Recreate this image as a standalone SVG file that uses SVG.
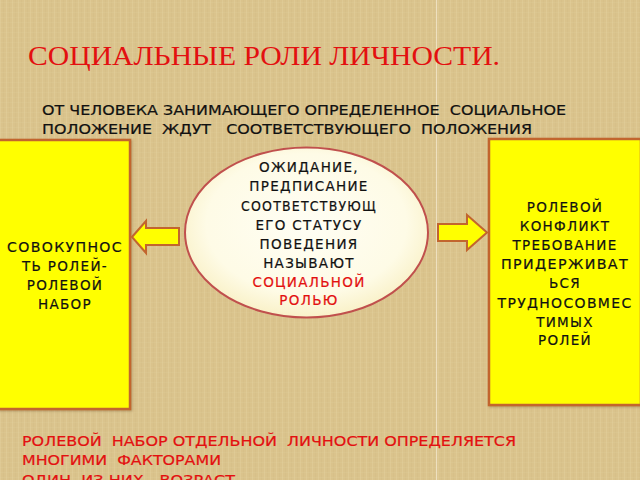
<svg xmlns="http://www.w3.org/2000/svg" width="640" height="480" viewBox="0 0 640 480">
  <defs>
    <pattern id="weave" width="6" height="5" patternUnits="userSpaceOnUse">
      <rect width="6" height="5" fill="#dac38c"/>
      <rect x="0" y="0" width="1" height="5" fill="#e3d09e" opacity="0.45"/>
      <rect x="3" y="0" width="1" height="5" fill="#cdb47f" opacity="0.2"/>
      <rect x="0" y="2" width="6" height="1" fill="#e3d2a2" opacity="0.2"/>
    </pattern>
    <radialGradient id="egg" cx="50%" cy="45%" r="55%">
      <stop offset="0" stop-color="#fffef4"/>
      <stop offset="0.75" stop-color="#fefbe6"/>
      <stop offset="1" stop-color="#f9f1c8"/>
    </radialGradient>
    <filter id="sh" x="-10%" y="-10%" width="130%" height="130%">
      <feDropShadow dx="1" dy="1" stdDeviation="1" flood-color="#6b4a20" flood-opacity="0.4"/>
    </filter>
  </defs>
  <style>
    .sans { font-family: "DejaVu Sans", "Noto Sans", sans-serif; font-size: 13.5px; fill: #111; stroke: #111; stroke-width: 0.2px; }
    .box { fill: #ffff00; stroke: #c2652e; stroke-width: 2.5; }
    .arrow { fill: #ffff00; stroke: #c2652e; stroke-width: 2; stroke-linejoin: miter; }
    .red { fill: #e31010; stroke: #e31010; }
    .mid { text-anchor: middle; letter-spacing: 1.3px; }
  </style>

  <rect width="640" height="480" fill="url(#weave)"/>
  <line x1="436.5" y1="0" x2="436.5" y2="480" stroke="#f3e8cc" stroke-width="1.2" opacity="0.8"/>

  <g id="title">
    <text x="28" y="65" textLength="472" lengthAdjust="spacingAndGlyphs" font-family="'Liberation Serif', 'DejaVu Serif', serif" font-size="28" fill="#e31010">СОЦИАЛЬНЫЕ РОЛИ ЛИЧНОСТИ.</text>
  </g>

  <g id="subtitle" class="sans">
    <text x="42" y="115" textLength="524" lengthAdjust="spacingAndGlyphs" xml:space="preserve">ОТ ЧЕЛОВЕКА ЗАНИМАЮЩЕГО ОПРЕДЕЛЕННОЕ  СОЦИАЛЬНОЕ</text>
    <text x="42" y="134" textLength="490" lengthAdjust="spacingAndGlyphs" xml:space="preserve">ПОЛОЖЕНИЕ  ЖДУТ   СООТВЕТСТВУЮЩЕГО  ПОЛОЖЕНИЯ</text>
  </g>

  <g id="box-left">
    <rect class="box" x="-2" y="140" width="132" height="269" filter="url(#sh)"/>
    <g class="sans mid">
      <text x="65" y="252" textLength="116" lengthAdjust="spacingAndGlyphs">СОВОКУПНОС</text>
      <text x="65" y="271">ТЬ РОЛЕЙ-</text>
      <text x="65" y="290">РОЛЕВОЙ</text>
      <text x="65" y="309">НАБОР</text>
    </g>
  </g>

  <g id="ellipse-center">
    <ellipse cx="306.5" cy="232.5" rx="121.5" ry="85" fill="url(#egg)" stroke="#c0504d" stroke-width="2"/>
    <g class="sans mid">
      <text x="309" y="172">ОЖИДАНИЕ,</text>
      <text x="309" y="191">ПРЕДПИСАНИЕ</text>
      <text x="309" y="211" textLength="136" lengthAdjust="spacingAndGlyphs">СООТВЕТСТВУЮЩ</text>
      <text x="309" y="230">ЕГО СТАТУСУ</text>
      <text x="309" y="249">ПОВЕДЕНИЯ</text>
      <text x="309" y="268">НАЗЫВАЮТ</text>
      <text x="309" y="287" class="red">СОЦИАЛЬНОЙ</text>
      <text x="309" y="305" class="red">РОЛЬЮ</text>
    </g>
  </g>

  <g id="box-right">
    <rect class="box" x="489" y="139" width="152" height="266" filter="url(#sh)"/>
    <g class="sans mid">
      <text x="565" y="212">РОЛЕВОЙ</text>
      <text x="565" y="231">КОНФЛИКТ</text>
      <text x="565" y="250">ТРЕБОВАНИЕ</text>
      <text x="565" y="269" textLength="128" lengthAdjust="spacingAndGlyphs">ПРИДЕРЖИВАТ</text>
      <text x="565" y="288">ЬСЯ</text>
      <text x="565" y="308" textLength="135" lengthAdjust="spacingAndGlyphs">ТРУДНОСОВМЕС</text>
      <text x="565" y="327">ТИМЫХ</text>
      <text x="565" y="345">РОЛЕЙ</text>
    </g>
  </g>

  <g id="connectors">
    <polygon class="arrow" points="132,237 146,221 146,228 179,228 179,245 146,245 146,253"/>
    <polygon class="arrow" points="438,224 467,224 467,215 487,232.5 467,250 467,241 438,241"/>
  </g>

  <g id="bottom-text" class="sans">
    <text x="22" y="446" class="red" textLength="494" lengthAdjust="spacingAndGlyphs" xml:space="preserve">РОЛЕВОЙ  НАБОР ОТДЕЛЬНОЙ  ЛИЧНОСТИ ОПРЕДЕЛЯЕТСЯ</text>
    <text x="22" y="465" class="red" textLength="199" lengthAdjust="spacingAndGlyphs" xml:space="preserve">МНОГИМИ  ФАКТОРАМИ</text>
    <text x="22" y="485" class="red" textLength="213" lengthAdjust="spacingAndGlyphs" xml:space="preserve">ОДИН  ИЗ НИХ - ВОЗРАСТ</text>
  </g>
</svg>
